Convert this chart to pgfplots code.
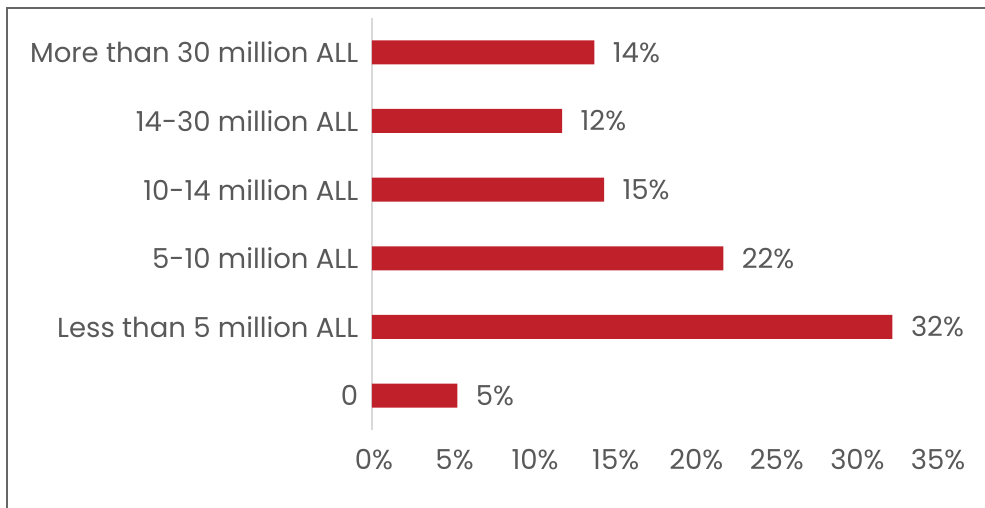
\documentclass[border=0pt]{standalone}
\usepackage{pgfplots}
\pgfplotsset{compat=1.18}
\usepackage{fontspec}
\setmainfont{Poppins}
\definecolor{barred}{HTML}{C0202A}
\definecolor{txt}{HTML}{595959}
\definecolor{axgray}{HTML}{D9D9D9}
\definecolor{frame}{HTML}{666666}
\begin{document}
\begin{tikzpicture}[x=1pt,y=1pt]
\useasboundingbox (-372,-78) rectangle (613,430);
\draw[frame, line width=2.2pt] (-365,-80) -- (-365,422) -- (615,422);
\begin{axis}[
  at={(0,0)}, anchor=south west,
  scale only axis, width=564pt, height=412pt,
  xbar, bar width=24pt,
  xmin=0, xmax=35, ymin=-0.5, ymax=5.5,
  ytick={0,1,2,3,4,5},
  yticklabels={0,Less than 5 million ALL,5-10 million ALL,10-14 million ALL,14-30 million ALL,More than 30 million ALL},
  xtick={0,5,10,15,20,25,30,35},
  xticklabel={\pgfmathprintnumber{\tick}\%},
  /pgf/number format/assume math mode=true,
  axis x line*=bottom,
  x axis line style={draw=none},
  axis y line*=left,
  y axis line style={axgray, line width=1.2pt, -},
  major tick style={draw=none},
  ticklabel style={font=\fontsize{27.5}{32}\selectfont, text=txt},
  yticklabel style={xshift=-6pt},
  xticklabel style={yshift=-16pt, xshift=2pt},
  point meta=explicit symbolic,
  nodes near coords,
  nodes near coords style={font=\fontsize{27.5}{32}\selectfont, text=txt, anchor=west, xshift=15pt},
]
\addplot[fill=barred, draw=none] coordinates {
  (5.3,0) [5\%]
  (32.3,1) [32\%]
  (21.8,2) [22\%]
  (14.4,3) [15\%]
  (11.8,4) [12\%]
  (13.8,5) [14\%]
};
\end{axis}
\end{tikzpicture}
\end{document}
